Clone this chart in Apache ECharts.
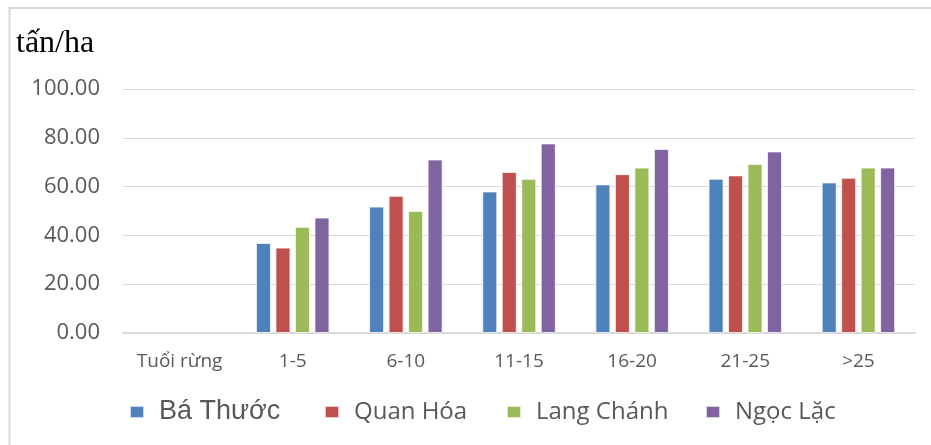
<!DOCTYPE html>
<html>
<head>
<meta charset="utf-8">
<script src="https://cdn.jsdelivr.net/npm/echarts@6/dist/echarts.min.js"></script>
<style>
  html, body { margin: 0; padding: 0; background: #ffffff; }
  #chart { width: 931px; height: 445px; }
</style>
</head>
<body>
<div id="chart"></div>
<script>
// Sinh khối rừng (tấn/ha) theo tuổi rừng ở bốn huyện
const categories = ['Tuổi rừng', '1-5', '6-10', '11-15', '16-20', '21-25', '>25'];
const baThuoc   = ['-', 36.9, 51.8, 58.0, 60.9, 63.2, 61.7];
const quanHoa   = ['-', 35.0, 56.2, 66.0, 65.1, 64.6, 63.6];
const langChanh = ['-', 43.5, 50.0, 63.2, 67.8, 69.3, 67.8];
const ngocLac   = ['-', 47.3, 71.1, 77.7, 75.4, 74.4, 67.8];
const seriesNames = ['Bá Thước', 'Quan Hóa', 'Lang Chánh', 'Ngọc Lặc'];
const seriesColors = ['#4F81BD', '#C0504D', '#9BBB59', '#8064A2'];
const yMin = 0, yMax = 100, yStep = 20;

const chart = echarts.init(document.getElementById('chart'), null, { renderer: 'canvas' });

const seriesData = [baThuoc, quanHoa, langChanh, ngocLac];
const legendLeft = [129, 324, 506, 705];

const legends = seriesNames.map((name, i) => ({
  data: [name],
  left: legendLeft[i],
  top: 397,
  padding: 0,
  icon: 'rect',
  itemWidth: 14,
  itemHeight: 12,
  selectedMode: false,
  textStyle: {
    fontFamily: i === 0 ? 'Liberation Sans' : 'Open Sans',
    fontSize: i === 0 ? 27 : 24,
    color: '#595959',
    padding: [0, 0, 0, 10],
    lineHeight: 30
  }
}));

chart.setOption({
  animation: false,
  backgroundColor: '#ffffff',
  grid: { left: 123, right: 16, top: 89, bottom: 112, containLabel: false },
  legend: legends,
  graphic: [
    {
      type: 'polyline',
      shape: { points: [[9.5, 445], [9.5, 8], [931, 8]] },
      style: { stroke: '#d9d9d9', lineWidth: 2, fill: null },
      silent: true
    },
    {
      type: 'text',
      left: 16,
      top: 28,
      style: {
        text: 'tấn/ha',
        font: '32px "Liberation Serif", "DejaVu Serif", serif',
        fill: '#000000'
      },
      silent: true
    }
  ],
  xAxis: {
    type: 'category',
    data: categories,
    axisLine: { show: true, lineStyle: { color: '#d9d9d9', width: 2 } },
    axisTick: { show: false },
    axisLabel: {
      margin: 19,
      fontFamily: 'Open Sans',
      fontSize: 19,
      color: '#595959',
      interval: 0
    }
  },
  yAxis: {
    type: 'value',
    min: yMin,
    max: yMax,
    interval: yStep,
    axisLine: { show: false },
    axisTick: { show: false },
    splitLine: { lineStyle: { color: '#d9d9d9', width: 1 } },
    axisLabel: {
      margin: 23,
      fontFamily: 'Open Sans',
      fontSize: 22,
      color: '#595959',
      formatter: v => v.toFixed(2)
    }
  },
  series: seriesNames.map((name, i) => ({
    name: name,
    type: 'bar',
    data: seriesData[i],
    barWidth: 15,
    barGap: '30%',
    itemStyle: {
      color: seriesColors[i],
      borderColor: 'rgba(255,255,255,0.7)',
      borderWidth: 1
    }
  }))
});
</script>
</body>
</html>
